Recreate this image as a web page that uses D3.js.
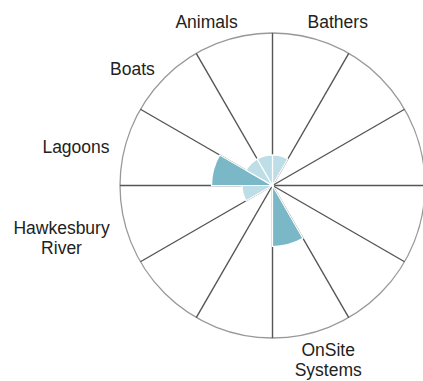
<!DOCTYPE html>
<html>
<head>
<meta charset="utf-8">
<script src="https://cdn.jsdelivr.net/npm/d3@7"></script>
<style>
  html, body { margin: 0; padding: 0; background: #fff; }
  svg { display: block; }
</style>
</head>
<body>
<svg id="chart" width="423" height="381"></svg>
<script>
// Data: 12 sectors clockwise from 12 o'clock; empty name = unlabeled (zero) sector
const categories = ["Bathers", "", "", "", "", "OnSite Systems", "", "", "Hawkesbury River", "Lagoons", "Boats", "Animals"];
const values     = [1, 0, 0, 0, 0, 2, 0, 0, 1, 2, 1, 1];
const scaleMax   = 5;
const levelColors = ["#bddee6", "#7ab8c8"]; // value 1, value 2

const W = 423, H = 381;
const cx = 272.5, cy = 185.5, R = 152.5;
const fontSize = 17.5, lineH = 20, capH = 0.716 * fontSize;

const svg = d3.select("#chart");
const g = svg.append("g").attr("transform", `translate(${cx},${cy})`);

const data = categories.map((c, i) => ({ i, name: c, value: values[i] }));

const angle = d3.scaleBand().domain(d3.range(categories.length)).range([0, 2 * Math.PI]).padding(0);
const radius = d3.scaleLinear().domain([0, scaleMax]).range([0, R]);
const color = d3.scaleOrdinal().domain([1, 2]).range(levelColors);

// outer circle
g.append("circle").attr("r", R).attr("fill", "none").attr("stroke", "#999").attr("stroke-width", 1.3);

// spokes
g.selectAll("line.spoke").data(data).join("line")
  .attr("class", "spoke")
  .attr("x1", 0).attr("y1", 0)
  .attr("x2", d => R * Math.sin(angle(d.i)))
  .attr("y2", d => -R * Math.cos(angle(d.i)))
  .attr("stroke", "#555").attr("stroke-width", 1.4);

// wedges
const arc = d3.arc()
  .innerRadius(0)
  .outerRadius(d => radius(d.value))
  .startAngle(d => angle(d.i))
  .endAngle(d => angle(d.i) + angle.bandwidth());

g.selectAll("path.wedge").data(data.filter(d => d.value > 0)).join("path")
  .attr("class", "wedge")
  .attr("d", arc)
  .attr("fill", d => color(d.value))
  .attr("stroke", "#fff").attr("stroke-width", 1.2);

// labels for non-zero sectors
const Rx = 169, Ry = 165;
data.filter(d => d.value > 0 && d.name).forEach(d => {
  const th = angle(d.i) + angle.bandwidth() / 2;
  const s = Math.sin(th), c = Math.cos(th);
  const lines = d.name.split(" ");
  const t = g.append("text")
    .attr("text-anchor", "middle")
    .attr("font-family", "Liberation Sans, Arial, sans-serif")
    .attr("font-size", fontSize)
    .attr("fill", "#222");
  const spans = lines.map(l => t.append("tspan").text(l));
  const w = d3.max(spans, sp => sp.node().getComputedTextLength());
  const n = lines.length;
  const h = capH + (n - 1) * lineH;
  const side = c < -0.5 ? 0.5 : 1;
  const x = Rx * s + Math.sign(s) * (w / 2) * Math.pow(Math.abs(s), 0.25) * side;
  const yc = -Ry * c - (h / 2) * c + 1.5 * c + 6 * s * s;
  const b1 = yc - (n - 1) * lineH / 2 + capH / 2;
  spans.forEach((sp, k) => sp.attr("x", x).attr("y", b1 + k * lineH));
});
</script>
</body>
</html>
